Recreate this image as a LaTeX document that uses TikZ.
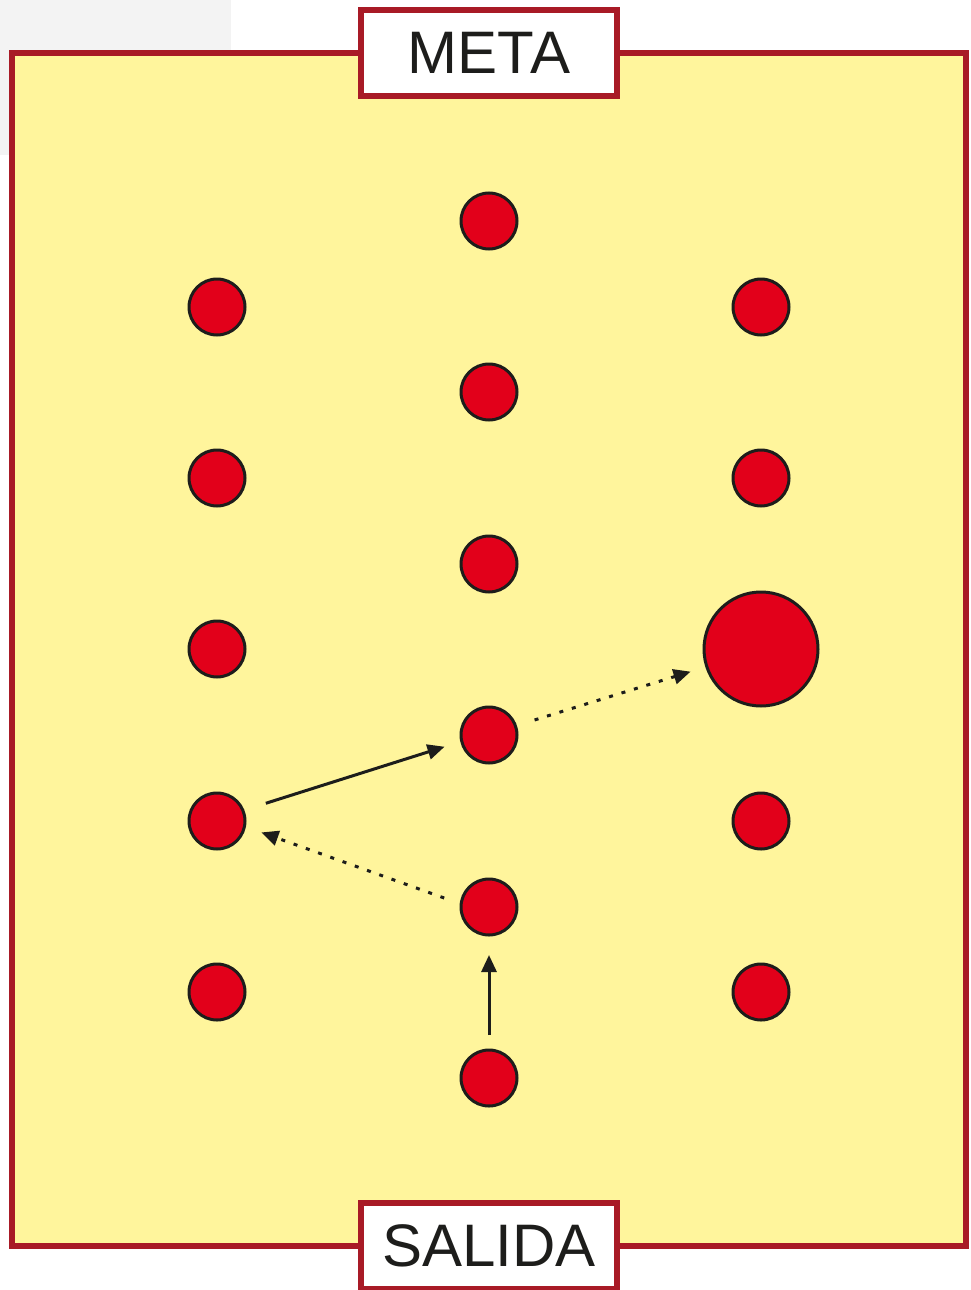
\documentclass[tikz,border=0pt]{standalone}
\usepackage{fontspec}
\setmainfont{Liberation Sans}
\usetikzlibrary{arrows.meta}
\definecolor{frame}{HTML}{A81A26}
\definecolor{field}{HTML}{FFF59C}
\definecolor{dotred}{HTML}{E2001A}
\definecolor{ink}{HTML}{1D1D1B}
\definecolor{greybg}{HTML}{F3F3F3}
\tikzset{
  cone/.style={circle, draw=ink, fill=dotred, line width=3pt, minimum size=56pt, inner sep=0pt, outer sep=0pt},
  bigcone/.style={cone, minimum size=114pt},
  label box/.style={draw=frame, fill=white, line width=6pt, minimum width=256pt, minimum height=86pt, inner sep=0pt, font=\fontsize{60}{60}\selectfont, text=ink},
  run/.style={draw=ink, line width=3pt, -{Triangle[length=17pt, width=15pt]}},
  pass/.style={run, dash pattern=on 4pt off 9pt},
}
\begin{document}
\begin{tikzpicture}[x=1pt, y=-1pt]
\useasboundingbox (0,0) rectangle (971,1290);
\fill[greybg] (0,0) rectangle (231,155);
\draw[frame, fill=field, line width=6pt] (12,53) rectangle (966,1246);
\node[label box] (meta) at (489,53) {META};
\node[label box] (salida) at (489,1246) {SALIDA};
% left column
\node[cone] (L1) at (217,307) {};
\node[cone] (L2) at (217,478) {};
\node[cone] (L3) at (217,649) {};
\node[cone] (L4) at (217,821) {};
\node[cone] (L5) at (217,992) {};
% centre column
\node[cone] (C1) at (489,221) {};
\node[cone] (C2) at (489,392) {};
\node[cone] (C3) at (489,564) {};
\node[cone] (C4) at (489,735) {};
\node[cone] (C5) at (489,907) {};
\node[cone] (C6) at (489,1078) {};
% right column
\node[cone] (R1) at (761,307) {};
\node[cone] (R2) at (761,478) {};
\node[bigcone] (R3) at (761,649) {};
\node[cone] (R4) at (761,821) {};
\node[cone] (R5) at (761,992) {};
% arrows
\draw[run, shorten <=15pt, shorten >=20pt] (C6) -- (C5);
\draw[pass, shorten <=18pt, shorten >=18pt] (C5.174) -- (L4.-11);
\draw[run, shorten <=24pt, shorten >=18pt] (L4.22) -- (C4.193);
\draw[pass, shorten <=20pt, shorten >=17pt] (C4.19) -- (R3.198);
\end{tikzpicture}
\end{document}
